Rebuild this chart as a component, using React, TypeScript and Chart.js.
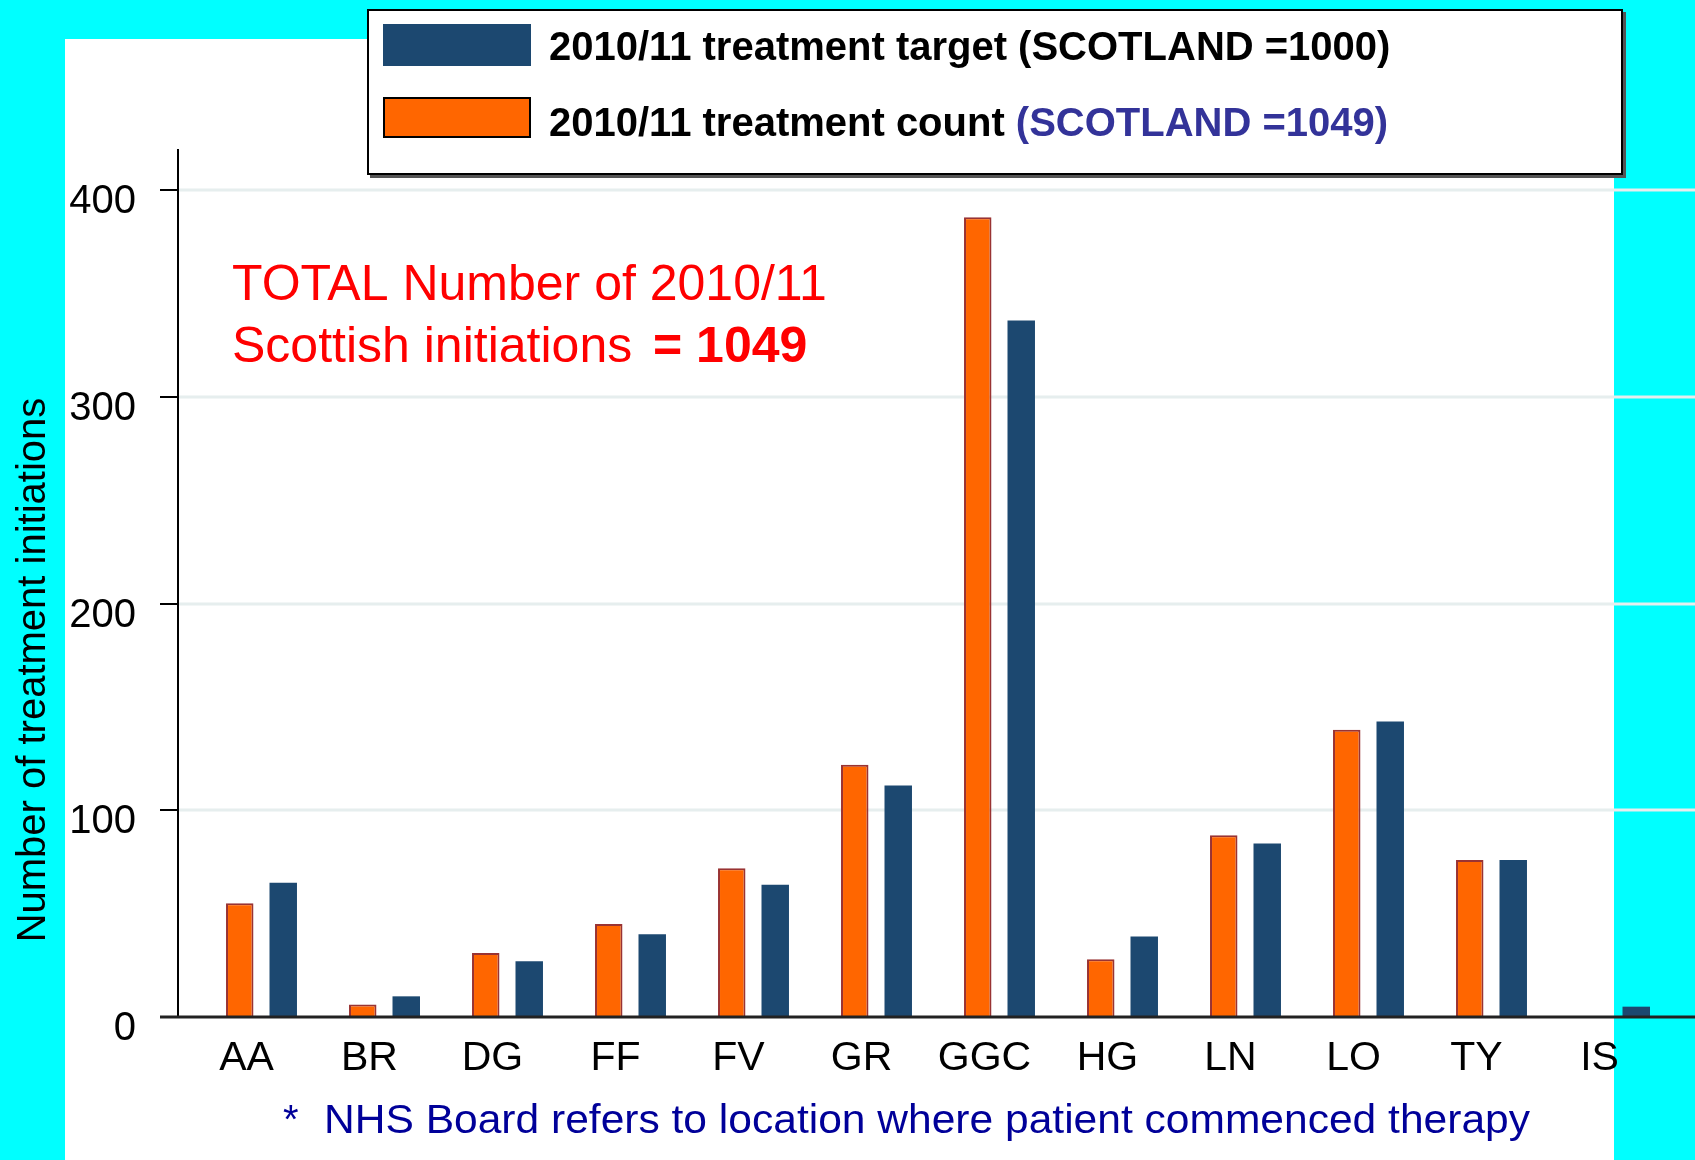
import React, { useEffect, useRef } from "react";
import { Chart, registerables } from "chart.js";

Chart.register(...registerables);

const CATEGORIES = ["AA", "BR", "DG", "FF", "FV", "GR", "GGC", "HG", "LN", "LO", "TY", "IS"];
const COUNT_2010_11 = [55, 6, 31, 45, 72, 122, 387, 28, 88, 139, 76, 0];
const TARGET_2010_11 = [65, 10, 27, 40, 64, 112, 337, 39, 84, 143, 76, 5];
const Y_TICKS = [0, 100, 200, 300, 400];

const LEGEND_TARGET = "2010/11 treatment target (SCOTLAND =1000)";
const LEGEND_COUNT_A = "2010/11 treatment count ";
const LEGEND_COUNT_B = "(SCOTLAND =1049)";
const NOTE_LINE1 = "TOTAL Number of 2010/11";
const NOTE_LINE2A = "Scottish initiations";
const NOTE_LINE2B = "= 1049";
const FOOT_STAR = "*";
const FOOTNOTE = "NHS Board refers to location where patient commenced therapy";
const Y_TITLE = "Number of treatment initiations";

const W = 1695;
const H = 1160;
const FONT = "'Liberation Sans', Arial, sans-serif";
const ORANGE = "#FF6600";
const ORANGE_EDGE = "#993333";
const BLUE = "#1C4870";

const decorPlugin = {
  id: "decor",
  beforeDraw(chart: any) {
    const ctx = chart.ctx;
    ctx.save();
    ctx.fillStyle = "#00FFFF";
    ctx.fillRect(0, 0, W, H);
    ctx.fillStyle = "#FFFFFF";
    ctx.fillRect(65, 39, 1549, H - 39);
    ctx.restore();
  },
  beforeDatasetsDraw(chart: any) {
    const ctx = chart.ctx;
    const y = chart.scales.y;
    const axisX = chart.chartArea.left - 22;
    ctx.save();
    ctx.strokeStyle = "#E6EEEE";
    ctx.lineWidth = 3;
    Y_TICKS.forEach((v) => {
      if (v === 0) return;
      const py = Math.round(y.getPixelForValue(v));
      ctx.beginPath();
      ctx.moveTo(axisX, py);
      ctx.lineTo(W, py);
      ctx.stroke();
    });
    ctx.restore();
  },
  afterDatasetsDraw(chart: any) {
    const ctx = chart.ctx;
    const y = chart.scales.y;
    const area = chart.chartArea;
    const axisX = area.left - 22;
    ctx.save();
    ctx.strokeStyle = "#000000";
    ctx.lineWidth = 2;
    ctx.beginPath();
    ctx.moveTo(axisX, area.top);
    ctx.lineTo(axisX, area.bottom);
    ctx.stroke();
    Y_TICKS.forEach((v) => {
      const py = Math.round(y.getPixelForValue(v));
      ctx.beginPath();
      ctx.moveTo(axisX - 18, py);
      ctx.lineTo(axisX, py);
      ctx.stroke();
    });
    ctx.strokeStyle = "#222222";
    ctx.lineWidth = 3;
    const py0 = y.getPixelForValue(0);
    ctx.beginPath();
    ctx.moveTo(axisX - 18, py0);
    ctx.lineTo(W, py0);
    ctx.stroke();
    ctx.restore();
  },
  afterDraw(chart: any) {
    const ctx = chart.ctx;
    const ds = chart.data.datasets;
    ctx.save();
    // legend box
    ctx.fillStyle = "#555555";
    ctx.fillRect(370, 12, 1256, 166);
    ctx.fillStyle = "#FFFFFF";
    ctx.fillRect(367, 9, 1256, 166);
    ctx.strokeStyle = "#000000";
    ctx.lineWidth = 2;
    ctx.strokeRect(368, 10, 1254, 164);
    // swatches
    ctx.fillStyle = ds[1].backgroundColor;
    ctx.fillRect(383, 24, 148, 42);
    ctx.fillStyle = ds[0].backgroundColor;
    ctx.fillRect(384, 98, 146, 39);
    ctx.strokeStyle = "#000000";
    ctx.lineWidth = 2;
    ctx.strokeRect(384, 98, 146, 39);
    // legend text
    ctx.font = `bold 40px ${FONT}`;
    ctx.textBaseline = "alphabetic";
    ctx.textAlign = "left";
    ctx.fillStyle = "#000000";
    ctx.fillText(LEGEND_TARGET, 549, 60);
    ctx.fillText(LEGEND_COUNT_A, 549, 136);
    const wA = ctx.measureText(LEGEND_COUNT_A).width;
    ctx.fillStyle = "#333399";
    ctx.fillText(LEGEND_COUNT_B, 549 + wA, 136);

    // annotation
    ctx.fillStyle = "#FF0000";
    ctx.font = `50px ${FONT}`;
    ctx.fillText(NOTE_LINE1, 232, 300);
    ctx.fillText(NOTE_LINE2A, 232, 362);
    ctx.font = `bold 50px ${FONT}`;
    ctx.fillText(NOTE_LINE2B, 653, 362);

    // footnote
    ctx.fillStyle = "#000099";
    ctx.font = `40px ${FONT}`;
    ctx.fillText(FOOT_STAR, 283, 1133);
    const fw = ctx.measureText(FOOTNOTE).width;
    ctx.save();
    ctx.translate(324, 1133);
    ctx.scale(1206 / fw, 1);
    ctx.fillText(FOOTNOTE, 0, 0);
    ctx.restore();

    // y title
    ctx.fillStyle = "#000000";
    ctx.font = `40px ${FONT}`;
    ctx.save();
    ctx.translate(45, 670);
    ctx.rotate(-Math.PI / 2);
    ctx.textAlign = "center";
    ctx.fillText(Y_TITLE, 0, 0);
    ctx.restore();
    ctx.restore();
  },
};

export default function App() {
  const ref = useRef<HTMLCanvasElement | null>(null);
  useEffect(() => {
    const canvas = ref.current;
    if (!canvas) return;
    const chart = new Chart(canvas, {
      type: "bar",
      data: {
        labels: CATEGORIES,
        datasets: [
          {
            label: "2010/11 treatment count",
            data: COUNT_2010_11,
            backgroundColor: ORANGE,
            borderColor: ORANGE_EDGE,
            borderWidth: 2,
          },
          {
            label: "2010/11 treatment target",
            data: TARGET_2010_11,
            backgroundColor: BLUE,
            borderWidth: 0,
          },
        ],
      },
      options: {
        animation: false,
        responsive: false,
        maintainAspectRatio: false,
        devicePixelRatio: 1,
        layout: { padding: { left: 0, right: 19, top: 149, bottom: 0 } },
        datasets: {
          bar: { categoryPercentage: 0.707, barPercentage: 0.632 },
        },
        plugins: {
          legend: { display: false },
          tooltip: { enabled: false },
          title: { display: false },
        },
        scales: {
          x: {
            type: "category",
            grid: { display: false, drawTicks: false },
            border: { display: false },
            ticks: {
              autoSkip: false,
              maxRotation: 0,
              minRotation: 0,
              color: "#000000",
              font: { family: FONT, size: 41 },
              padding: 17,
              labelOffset: -15,
            },
            afterFit: (s: any) => {
              s.height = 143;
            },
          },
          y: {
            type: "linear",
            min: 0,
            max: 420,
            grid: { display: false, drawTicks: false },
            border: { display: false },
            ticks: {
              stepSize: 100,
              color: "#000000",
              font: { family: FONT, size: 40 },
              padding: 64,
              labelOffset: 12,
            },
            afterBuildTicks: (s: any) => {
              s.ticks = Y_TICKS.map((v) => ({ value: v }));
            },
            afterFit: (s: any) => {
              s.width = 200;
            },
          },
        },
      },
      plugins: [decorPlugin],
    } as any);
    return () => chart.destroy();
  }, []);
  return (
    <div style={{ position: "absolute", left: 0, top: 0, width: W, height: H, background: "#00FFFF" }}>
      <canvas ref={ref} width={W} height={H} style={{ display: "block", width: W, height: H }} />
    </div>
  );
}
